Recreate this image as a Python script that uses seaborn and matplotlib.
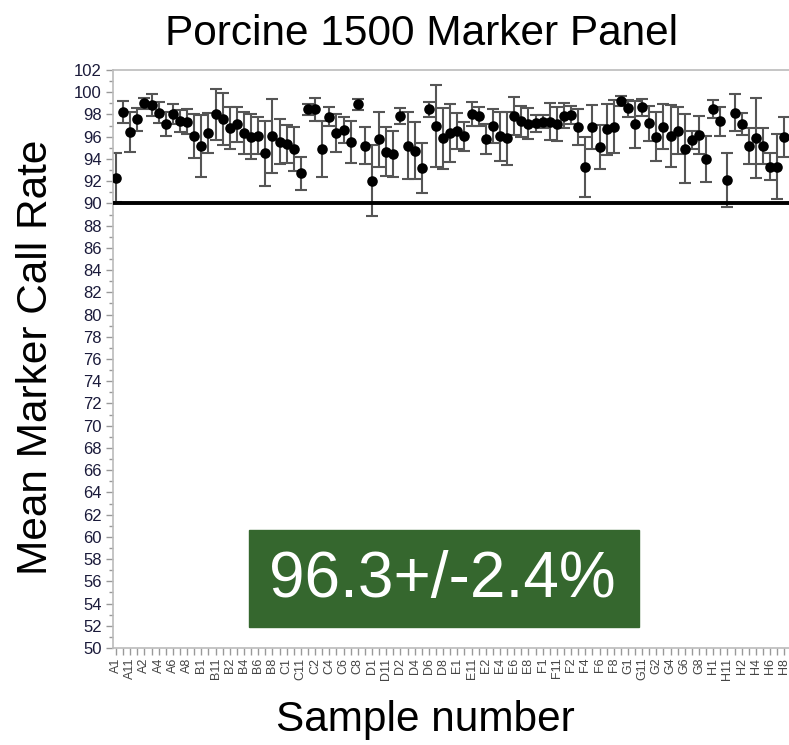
import numpy as np
import pandas as pd
import seaborn as sns
import matplotlib.pyplot as plt
from matplotlib.ticker import MultipleLocator

sns.set_theme(style="white")
plt.rcParams['font.family'] = ['Liberation Sans', 'DejaVu Sans']
plt.rcParams['text.color'] = 'black'

# wells in the order the software lists them (lexical: A1, A10, A11, A12, A2 ...)
rows = ['A', 'B', 'C', 'D', 'E', 'F', 'G', 'H']
cols = sorted([str(c) for c in range(1, 13)])
samples = [r + c for r in rows for c in cols][:95]

mean_rate = [92.3, 98.25, 96.45, 97.55, 99.0, 98.85, 98.15, 97.15, 98.05, 97.4,
             97.35, 96.05, 95.15, 96.35, 98.0, 97.6, 96.75, 97.1, 96.35, 96.0,
             96.1, 94.5, 96.05, 95.55, 95.35, 94.9, 92.7, 98.45, 98.45, 94.9,
             97.8, 96.35, 96.6, 95.55, 98.9, 95.2, 92.05, 95.75, 94.65, 94.45,
             97.85, 95.2, 94.75, 93.15, 98.45, 96.95, 95.85, 96.3, 96.5, 96.05,
             98.05, 97.85, 95.75, 96.95, 96.05, 95.85, 97.85, 97.4, 97.15, 97.2,
             97.35, 97.35, 97.15, 97.9, 97.95, 96.85, 93.25, 96.85, 95.05, 96.65,
             96.9, 99.2, 98.55, 97.1, 98.65, 97.2, 96.0, 96.9, 96.05, 96.55,
             94.9, 95.7, 96.15, 94.0, 98.5, 97.4, 92.1, 98.15, 97.15, 95.15,
             95.85, 95.15, 93.3, 93.3, 96.0]
sd_rate = [2.2, 1.0, 1.8, 1.0, 0.5, 0.95, 0.95, 1.1, 0.9, 1.0,
           1.1, 1.95, 2.8, 1.8, 2.3, 2.35, 1.9, 1.6, 1.9, 2.05,
           1.7, 2.9, 3.3, 2.0, 1.7, 2.0, 1.5, 0.5, 1.0, 2.5,
           0.85, 1.7, 1.15, 1.9, 0.5, 1.7, 3.2, 2.5, 2.2, 2.1,
           0.7, 3.0, 2.55, 2.25, 0.7, 3.7, 2.75, 2.6, 1.65, 1.3,
           1.1, 0.85, 1.35, 1.5, 2.2, 2.4, 1.7, 1.4, 1.4, 0.75,
           0.6, 1.65, 1.55, 1.1, 0.8, 1.6, 2.7, 2.0, 2.0, 2.3,
           2.4, 0.45, 0.75, 2.1, 0.75, 1.55, 2.2, 2.0, 2.8, 2.1,
           3.1, 0.8, 1.75, 2.1, 0.8, 1.3, 2.4, 1.65, 1.0, 1.65,
           3.6, 1.6, 1.2, 2.9, 1.8]

threshold = 90
summary_text = '96.3+/-2.4%'

df = pd.DataFrame({'sample': samples, 'mean': mean_rate, 'sd': sd_rate})
df['pos'] = np.arange(len(df))

W, H = 789, 745
fig = plt.figure(figsize=(W / 100, H / 100), dpi=100)
ax = fig.add_axes([113 / W, 97 / H, 1 - 113 / W, 578 / H])

ax.errorbar(df['pos'], df['mean'], yerr=df['sd'], fmt='none',
            ecolor='#555555', elinewidth=1.5, capsize=4.2, capthick=1.5, zorder=2)
sns.scatterplot(data=df, x='pos', y='mean', color='black', s=58,
                edgecolor='black', linewidth=0, ax=ax, zorder=3)
ax.axhline(threshold, color='black', lw=2.8, zorder=4)

ax.set_xlim(-0.42, 94.65)
ax.set_ylim(50, 102)
ax.yaxis.set_major_locator(MultipleLocator(2))
ax.yaxis.set_minor_locator(MultipleLocator(1))
ax.set_xticks(df['pos'])
ax.set_xticklabels([s if i % 2 == 0 else '' for i, s in enumerate(samples)],
                   rotation=90, fontsize=9, color='#444444')
ax.tick_params(axis='y', which='major', length=5, width=1, color='#999999',
               labelsize=12, labelcolor='#1a1a3a', left=True, pad=3)
ax.tick_params(axis='y', which='minor', length=3, width=1, color='#999999', left=True)
ax.tick_params(axis='x', which='major', length=5, width=1, color='#999999',
               bottom=True, pad=2)
ax.set_xlabel('')
ax.set_ylabel('')

for side in ['left', 'bottom', 'top']:
    ax.spines[side].set_color('#bbbbbb')
    ax.spines[side].set_linewidth(1.2)
ax.spines['right'].set_visible(False)

fig.patches.append(plt.Rectangle((249 / W, 1 - 627 / H), 390 / W, 97 / H,
                                 transform=fig.transFigure, color='#35672e',
                                 zorder=5))
fig.text(442 / W, 1 - 580 / H, summary_text, color='white', fontsize=46,
         ha='center', va='center', zorder=6)

fig.text(422 / W, 1 - 34 / H, 'Porcine 1500 Marker Panel', fontsize=30.5,
         ha='center', va='center', color='black')
fig.text(36 / W, 1 - 357 / H, 'Mean Marker Call Rate', fontsize=30.5,
         rotation=90, ha='center', va='center', color='black')
fig.text(425 / W, 1 - 720 / H, 'Sample number', fontsize=30.5,
         ha='center', va='center', color='black')

fig.savefig('out.png', dpi=100)
